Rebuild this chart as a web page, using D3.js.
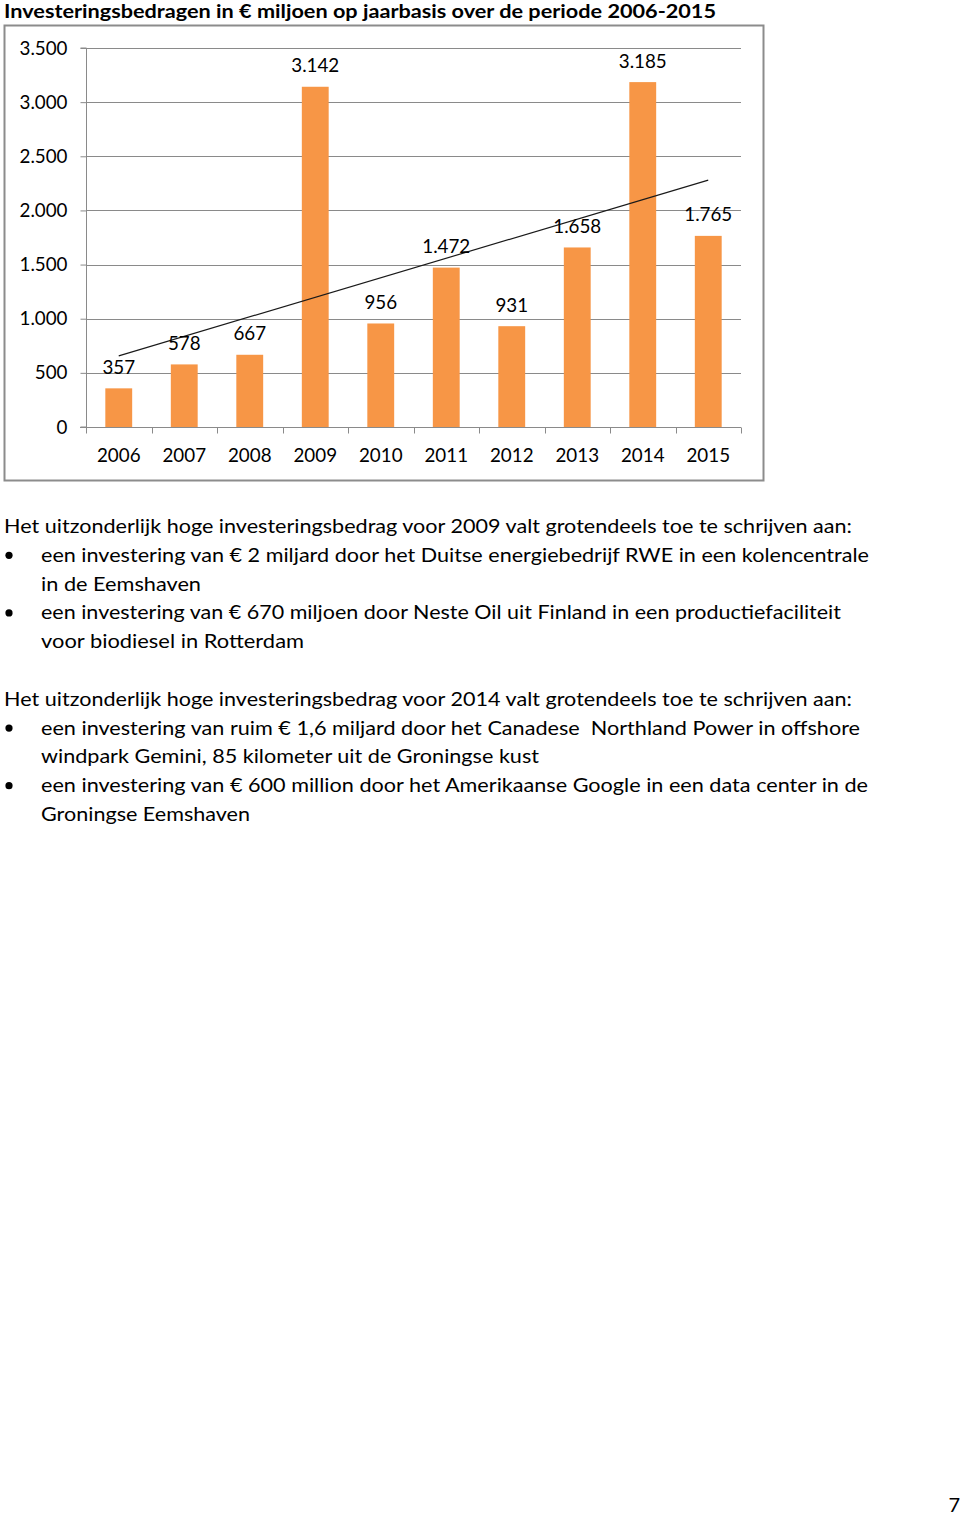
<!DOCTYPE html>
<html>
<head>
<meta charset="utf-8">
<script src="https://cdn.jsdelivr.net/npm/d3@7"></script>
<style>
  html, body { margin: 0; padding: 0; background: #fff; }
  svg { display: block; }
  text { white-space: pre; }
</style>
</head>
<body>
<svg id="page" width="960" height="1515"></svg>
<script>
// ---- data ----
const years = ["2006","2007","2008","2009","2010","2011","2012","2013","2014","2015"];
const values = [357, 578, 667, 3142, 956, 1472, 931, 1658, 3185, 1765];
const valueLabels = ["357","578","667","3.142","956","1.472","931","1.658","3.185","1.765"];
const yTicks = [0, 500, 1000, 1500, 2000, 2500, 3000, 3500];
const yTickLabels = ["0","500","1.000","1.500","2.000","2.500","3.000","3.500"];
const trendYears = ["2006", "2015"];
const trendValues = [657, 2280];

const title = "Investeringsbedragen in € miljoen op jaarbasis over de periode 2006-2015";
const paragraphs = [
  { head: "Het uitzonderlijk hoge investeringsbedrag voor 2009 valt grotendeels toe te schrijven aan:",
    bullets: [
      ["een investering van € 2 miljard door het Duitse energiebedrijf RWE in een kolencentrale", "in de Eemshaven"],
      ["een investering van € 670 miljoen door Neste Oil uit Finland in een productiefaciliteit", "voor biodiesel in Rotterdam"]
    ]},
  { head: "Het uitzonderlijk hoge investeringsbedrag voor 2014 valt grotendeels toe te schrijven aan:",
    bullets: [
      ["een investering van ruim € 1,6 miljard door het Canadese  Northland Power in offshore", "windpark Gemini, 85 kilometer uit de Groningse kust"],
      ["een investering van € 600 million door het Amerikaanse Google in een data center in de", "Groningse Eemshaven"]
    ]}
];
const pageNumber = "7";

// ---- layout ----
const FONT = "Lato, 'Open Sans', sans-serif";
const svg = d3.select("#page");

// title
svg.append("text")
  .attr("x", 4).attr("y", 18)
  .attr("font-family", FONT).attr("font-weight", "bold").attr("font-size", 19)
  .attr("textLength", 712).attr("lengthAdjust", "spacingAndGlyphs")
  .attr("fill", "#000")
  .text(title);

// chart box
svg.append("rect")
  .attr("x", 4.5).attr("y", 25.5).attr("width", 759).attr("height", 455)
  .attr("fill", "#fff").attr("stroke", "#8c8c8c").attr("stroke-width", 2);

const x = d3.scaleBand().domain(years).range([86, 741]).paddingInner(0.59).paddingOuter(0.295);
const xGroups = d3.scaleBand().domain(years).range([86, 741]);
const y = d3.scaleLinear().domain([0, 3500]).range([427, 48]);

const g = svg.append("g");
const LBL = 18.8;

// gridlines
g.selectAll("line.grid").data(yTicks.filter(d => d > 0)).join("line")
  .attr("class", "grid")
  .attr("x1", 86).attr("x2", 741)
  .attr("y1", d => Math.round(y(d)) + 0.5).attr("y2", d => Math.round(y(d)) + 0.5)
  .attr("stroke", "#8a8a8a").attr("stroke-width", 1);

// y axis
const yAxis = d3.axisLeft(y).tickValues(yTicks)
  .tickFormat((d, i) => yTickLabels[i]).tickSize(6).tickPadding(13);
const gy = g.append("g").attr("transform", "translate(86.5,0)").call(yAxis);
gy.select(".domain").attr("stroke", "#8a8a8a").attr("d", `M-6,${y(3500)}H0V${y(0)}H-6`);
gy.selectAll(".tick line").attr("stroke", "#8a8a8a");
gy.selectAll(".tick text").attr("font-family", FONT).attr("font-size", LBL).attr("fill", "#000");

// bars
g.selectAll("rect.bar").data(values).join("rect")
  .attr("class", "bar")
  .attr("x", (d, i) => x(years[i]))
  .attr("width", x.bandwidth())
  .attr("y", d => y(d))
  .attr("height", d => y(0) - y(d))
  .attr("fill", "#F79646");

// x axis
const xAxis = d3.axisBottom(xGroups).tickSize(0).tickPadding(0).tickFormat(d => d);
const gx = g.append("g").attr("transform", `translate(0,${y(0) + 0.5})`).call(xAxis);
gx.select(".domain").attr("stroke", "#8a8a8a").attr("d", "M80,0H741");
gx.selectAll(".tick text").attr("font-family", FONT).attr("font-size", LBL).attr("fill", "#000")
  .attr("dy", 0).attr("y", 34);
// boundary ticks
const bounds = years.map(yr => xGroups(yr)).concat([741]);
gx.selectAll("line.bound").data(bounds).join("line")
  .attr("class", "bound")
  .attr("x1", d => Math.round(d) + 0.5).attr("x2", d => Math.round(d) + 0.5)
  .attr("y1", 0).attr("y2", 6)
  .attr("stroke", "#8a8a8a");

// trend line
const line = d3.line().x(d => x(d[0]) + x.bandwidth() / 2).y(d => y(d[1]));
g.append("path")
  .datum(trendYears.map((yr, i) => [yr, trendValues[i]]))
  .attr("d", line)
  .attr("fill", "none").attr("stroke", "#1a1a1a").attr("stroke-width", 1.2);

// data labels
g.selectAll("text.vlabel").data(values).join("text")
  .attr("class", "vlabel")
  .attr("x", (d, i) => x(years[i]) + x.bandwidth() / 2)
  .attr("y", d => y(d) - 14.5)
  .attr("text-anchor", "middle")
  .attr("font-family", FONT).attr("font-size", LBL).attr("fill", "#000")
  .text((d, i) => valueLabels[i]);

// ---- body text ----
const lineWidths = [
  [848, [[828, 160], [800, 263]]],
  [848, [[819, 498], [827, 209]]]
];
let yPos = 533;
const LH = 28.8;
paragraphs.forEach((p, pi) => {
  svg.append("text")
    .attr("x", 4).attr("y", yPos)
    .attr("font-family", FONT).attr("font-size", 20).attr("fill", "#000")
    .attr("textLength", lineWidths[pi][0]).attr("lengthAdjust", "spacingAndGlyphs")
    .text(p.head);
  yPos += LH;
  p.bullets.forEach((b, bi) => {
    svg.append("circle").attr("cx", 9).attr("cy", yPos - 6.5).attr("r", 3.6).attr("fill", "#000");
    b.forEach((ln, li) => {
      svg.append("text")
        .attr("x", 41).attr("y", yPos)
        .attr("font-family", FONT).attr("font-size", 20).attr("fill", "#000")
        .attr("textLength", lineWidths[pi][1][bi][li === 0 ? 0 : 1]).attr("lengthAdjust", "spacingAndGlyphs")
        .text(ln);
      yPos += LH;
    });
  });
  yPos += LH;
});

// page number
svg.append("text")
  .attr("x", 960).attr("y", 1512)
  .attr("text-anchor", "end")
  .attr("font-family", FONT).attr("font-size", 20).attr("fill", "#000")
  .text(pageNumber);
</script>
</body>
</html>
